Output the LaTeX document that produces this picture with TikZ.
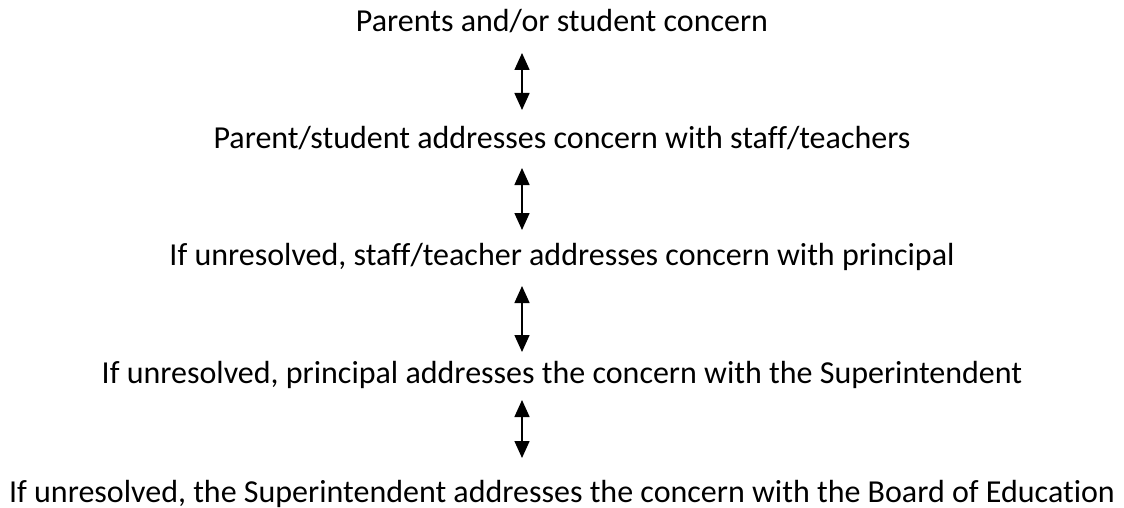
\documentclass[tikz,border=0pt]{standalone}
\usepackage{fontspec}
\setmainfont{Carlito}[Ligatures=NoCommon]
\usetikzlibrary{arrows.meta}
\begin{document}
\begin{tikzpicture}[x=1pt,y=-1pt,
  lbl/.style={anchor=base,inner sep=0pt,font=\fontsize{32}{38}\selectfont},
  arr/.style={line width=1.5pt,{Triangle[width=15pt,length=17pt]}-{Triangle[width=15pt,length=17pt]}}]
\useasboundingbox (0,0) rectangle (1124,508);
\node[lbl] (t1) at (562,32) {Parents and/or student concern};
\node[lbl] (t2) at (562,149) {Parent/student addresses concern with staff/teachers};
\node[lbl] (t3) at (562,265) {If unresolved, staff/teacher addresses concern with principal};
\node[lbl] (t4) at (562,383) {If unresolved, principal addresses the concern with the Superintendent};
\node[lbl] (t5) at (562,502) {If unresolved, the Superintendent addresses the concern with the Board of Education};
\coordinate (a1t) at (522,53); \coordinate (a1b) at (522,110);
\coordinate (a2t) at (522,168); \coordinate (a2b) at (522,230);
\coordinate (a3t) at (522,286); \coordinate (a3b) at (522,352);
\coordinate (a4t) at (522,400); \coordinate (a4b) at (522,458);
\draw[arr] (a1t) -- (a1b);
\draw[arr] (a2t) -- (a2b);
\draw[arr] (a3t) -- (a3b);
\draw[arr] (a4t) -- (a4b);
\end{tikzpicture}
\end{document}
